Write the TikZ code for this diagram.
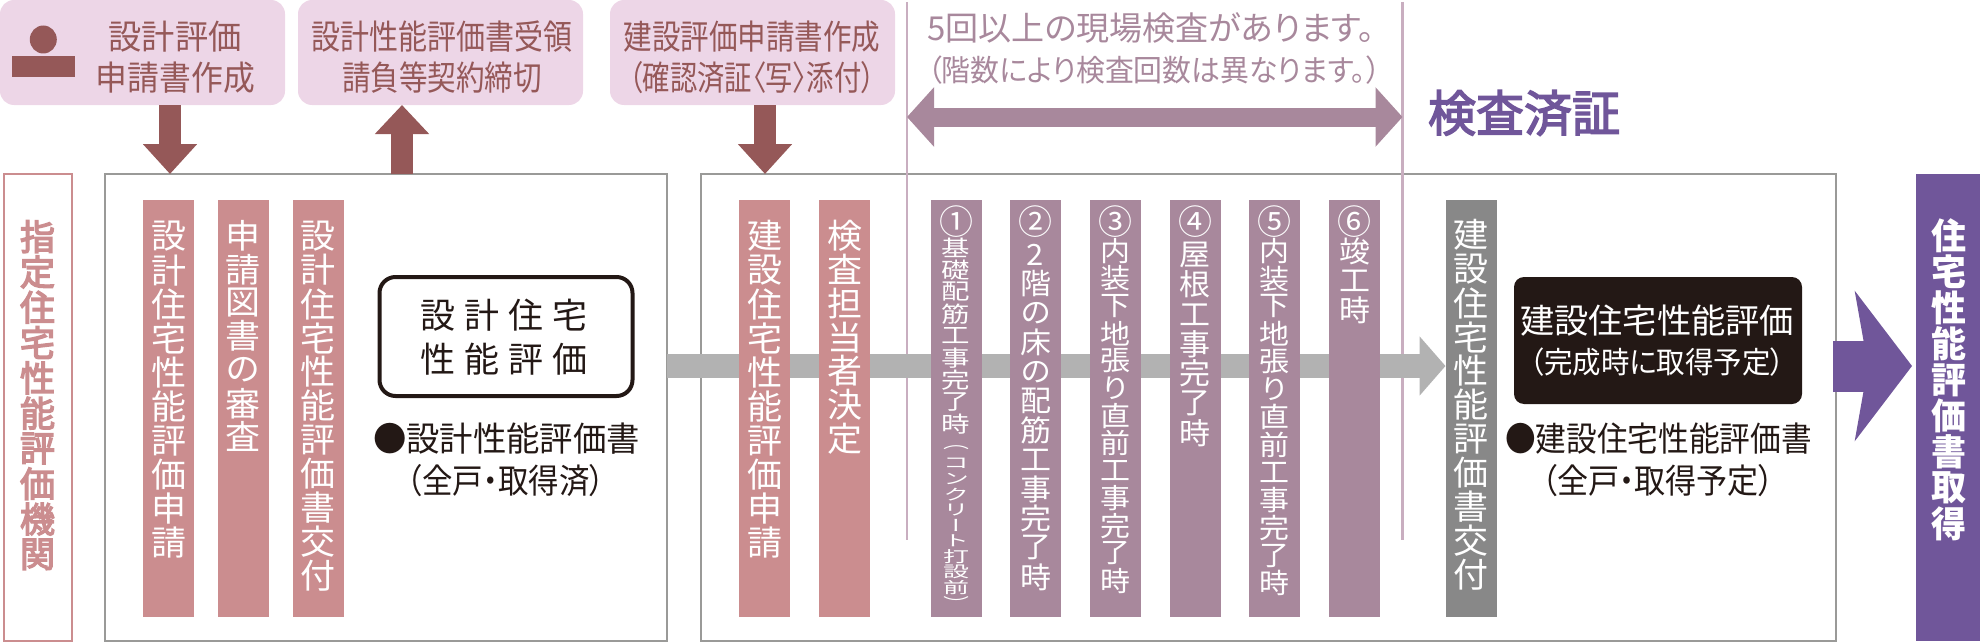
\documentclass[tikz,border=0pt]{standalone}
\usepackage{fontspec}
\usepackage{graphicx}
\usetikzlibrary{arrows.meta,shapes.geometric}
\setmainfont{Noto Sans CJK JP}[RawFeature=+palt]
\newfontfamily\vfont{Noto Sans CJK JP}[RawFeature=+vert]
\newfontfamily\vmed{Noto Sans CJK JP}[RawFeature=+vert,FakeBold=4]
\newfontfamily\hmed{Noto Sans CJK JP}[RawFeature=+palt,FakeBold=3]
\definecolor{pinkbg}{HTML}{EDD6E7}
\definecolor{darkrose}{HTML}{955858}
\definecolor{rosebar}{HTML}{CB8D8F}
\definecolor{mauve}{HTML}{A8889C}
\definecolor{grayb}{HTML}{888888}
\definecolor{grayarrow}{HTML}{B2B2B2}
\definecolor{framegray}{HTML}{9A9A98}
\definecolor{vline}{HTML}{C9AEC0}
\definecolor{violetx}{HTML}{70569A}
\definecolor{ink}{HTML}{231815}
% fitted horizontal text: width, size, text
\newcommand\fit[3]{\resizebox{#1pt}{\height}{\fontsize{#2}{#2}\selectfont #3}}
% vertical stack of characters: x scale, pitch/10, characters
\newdimen\vtp
\def\vtend{\vtend}
\newcommand\vtchar[1]{\vbox to \vtp{\vss\hbox to 40pt{\hss\scalebox{\vtx}[\vtg]{#1}\hss}\vss}}
\def\vtloop#1{\ifx#1\vtend\else\vtchar{#1}\expandafter\vtloop\fi}
\newcommand\vt[3]{\def\vtx{#1}\def\vtg{#2}\vtp=#2pt\vtp=10\vtp
  \vbox{\offinterlineskip\fontsize{10}{10}\selectfont\vtloop#3\vtend}}
% circled figure at the head of a bar
\newcommand\vtcirc[1]{\vbox to 29pt{\vss\hbox to 40pt{\hss\scalebox{3.4}{\fontsize{10}{10}\selectfont #1}\hss}\vss}}
\tikzset{
  pinkbox/.style={fill=pinkbg,rounded corners=14pt,minimum width=285pt,minimum height=105pt,inner sep=0pt,outer sep=0pt},
  frame/.style={draw=framegray,line width=2pt,minimum height=467pt,inner sep=0pt,outer sep=0pt},
  barrect/.style={minimum width=51pt,minimum height=417pt,inner sep=0pt,outer sep=0pt},
  bartext/.style={anchor=north,inner sep=0pt,outer sep=0pt,text=white,font=\vfont},
  txt/.style={inner sep=0pt,outer sep=0pt},
  roseline/.style={line width=22pt,draw=darkrose,-{Triangle[length=30pt,width=52.5pt]}},
}
\newcommand\barnode[5]{%
  \node[barrect,fill=#3] (#1) at (#2,408.5) {};
  \node[bartext] (#1t) at ([yshift=-#4pt]#1.north) {#5};
}
\begin{document}
\begin{tikzpicture}[x=1pt,y=-1pt]
\useasboundingbox (0,0) rectangle (1980,642);
% top boxes
\node[pinkbox] (p1) at (142.5,52.5) {};
\node[pinkbox] (p2) at (440.5,52.5) {};
\node[pinkbox] (p3) at (752.5,52.5) {};
\node[ellipse,fill=darkrose,minimum width=27pt,minimum height=28pt,inner sep=0pt] (head) at (43.3,39.5) {};
\node[fill=darkrose,minimum width=63pt,minimum height=21pt,inner sep=0pt] (body) at (43.5,66.5) {};
\node[txt,text=darkrose] (p1a) at (175,37) {\fit{133}{34}{設計評価}};
\node[txt,text=darkrose] (p1b) at (175.3,78) {\fit{159}{34}{申請書作成}};
\node[txt,text=darkrose] (p2a) at (442,37) {\fit{261}{34}{設計性能評価書受領}};
\node[txt,text=darkrose] (p2b) at (442,78) {\fit{200}{34}{請負等契約締切}};
\node[txt,text=darkrose] (p3a) at (752,37) {\fit{257}{34}{建設評価申請書作成}};
\node[txt,text=darkrose] (p3b) at (752,78) {\fit{246}{34}{（確認済証〈写〉添付）}};
% frames
\node[draw=rosebar,line width=1.6pt,minimum width=68pt,minimum height=467pt,inner sep=0pt,outer sep=0pt] (org) at (38,407.5) {};
\node[frame,minimum width=562pt] (boxA) at (386,407.5) {};
\node[frame,minimum width=1135pt] (boxB) at (1268.5,407.5) {};
\node[bartext,text=rosebar,font=\vmed] (orgt) at (37.5,219) {\vt{3.5}{3.53}{指定住宅性能評価機関}};
% vertical inspection lines
\coordinate (v1t) at (907,2);
\coordinate (v1b) at (907,540);
\coordinate (v2t) at (1402.5,2);
\coordinate (v2b) at (1402.5,540);
\draw[vline,line width=2.6pt] (v1t) -- (v1b);
\draw[vline,line width=2.6pt] (v2t) -- (v2b);
% flow arrow
\coordinate (grayy) at (0,366);
\coordinate (dy) at (0,117);
% arrows between boxes
\draw[roseline] ([xshift=27.5pt]p1.south) -- ([xshift=-216pt]boxA.north);
\draw[roseline,-{Triangle[length=29pt,width=52.5pt]}] ([xshift=16pt]boxA.north) -- ([xshift=-38.5pt]p2.south);
\draw[roseline] ([xshift=12.5pt]p3.south) -- ([xshift=-503.5pt]boxB.north);
\draw[mauve,line width=19pt,{Triangle[length=27pt,width=58pt]}-{Triangle[length=27pt,width=58pt]}] (v1t |- dy) -- (v2t |- dy);
% bars
\barnode{b0}{1471}{grayb}{18}{\vt{3.5}{3.4}{建設住宅性能評価書交付}}
\draw[grayarrow,line width=24pt,-{Triangle[length=26pt,width=58pt]}] (boxA.east |- grayy) -- (b0.west |- grayy);
\barnode{b1}{168.5}{rosebar}{19}{\vt{3.5}{3.41}{設計住宅性能評価申請}}
\barnode{b2}{243}{rosebar}{19}{\vt{3.5}{3.35}{申請図書の審査}}
\barnode{b3}{318}{rosebar}{19}{\vt{3.5}{3.4}{設計住宅性能評価書交付}}
\barnode{b4}{764.5}{rosebar}{19}{\vt{3.5}{3.41}{建設住宅性能評価申請}}
\barnode{b5}{844.5}{rosebar}{19}{\vt{3.5}{3.38}{検査担当者決定}}
\barnode{c1}{956}{mauve}{7}{\vbox{\offinterlineskip\vtcirc{①}\vskip1pt\vt{2.85}{2.2}{基礎配筋工事完了時}\vskip5pt\vt{2.6}{1.55}{（コンクリート打設前）}}}
\barnode{c2}{1035.5}{mauve}{7}{\vbox{\offinterlineskip\vtcirc{②}\vskip4pt\vt{3.1}{2.93}{2階の床の配筋工事完了時}}}
\barnode{c3}{1115.5}{mauve}{7}{\vbox{\offinterlineskip\vtcirc{③}\vskip1pt\vt{3.0}{2.75}{内装下地張り直前工事完了時}}}
\barnode{c4}{1195}{mauve}{7}{\vbox{\offinterlineskip\vtcirc{④}\vskip4pt\vt{3.1}{2.97}{屋根工事完了時}}}
\barnode{c5}{1274.5}{mauve}{7}{\vbox{\offinterlineskip\vtcirc{⑤}\vskip1pt\vt{3.0}{2.77}{内装下地張り直前工事完了時}}}
\barnode{c6}{1354.5}{mauve}{7}{\vbox{\offinterlineskip\vtcirc{⑥}\vskip1pt\vt{3.1}{2.95}{竣工時}}}
% above the line
\node[txt,text=mauve] (top1) at (1151,27.5) {\fit{447}{33}{5回以上の現場検査があります。}};
\node[txt,text=mauve] (top2) at (1154,70) {\fit{453}{30}{（階数により検査回数は異なります。）}};
\node[txt,text=violetx,font=\hmed] (pass) at (1524,113) {\fit{192}{49}{検査済証}};
% design result
\node[draw=ink,line width=4pt,rounded corners=16pt,fill=white,minimum width=253pt,minimum height=119pt,inner sep=0pt,outer sep=0pt] (dbox) at (506,336.5) {};
\node[txt,text=ink] (d1) at (504,315) {\fontsize{35}{35}\selectfont 設\hspace{9pt}計\hspace{9pt}住\hspace{9pt}宅};
\node[txt,text=ink] (d2) at (504,359.5) {\fontsize{35}{35}\selectfont 性\hspace{9pt}能\hspace{9pt}評\hspace{9pt}価};
\node[txt,text=ink] (d3) at (506.5,439) {\fit{267}{34}{●設計性能評価書}};
\node[txt,text=ink] (d4) at (506,480.5) {\fit{198}{34}{（全戸・取得済）}};
% construction result
\node[fill=ink,rounded corners=10pt,minimum width=288pt,minimum height=127pt,inner sep=0pt,outer sep=0pt] (kbox) at (1658,340.5) {};
\node[txt,text=white] (k1) at (1657,320.5) {\fit{274}{34}{建設住宅性能評価}};
\node[txt,text=white] (k2) at (1657.5,362) {\fit{255}{30}{（完成時に取得予定）}};
\node[txt,text=ink] (k3) at (1658.5,439) {\fit{307}{34}{●建設住宅性能評価書}};
\node[txt,text=ink] (k4) at (1658,480.5) {\fit{233}{34}{（全戸・取得予定）}};
% final
\node[fill=violetx,minimum width=64pt,minimum height=467pt,inner sep=0pt,outer sep=0pt] (final) at (1948,407.5) {};
\node[bartext,font=\vfont\bfseries] (finalt) at (1949,218) {\vt{3.5}{3.6}{住宅性能評価書取得}};
\coordinate (pa) at (1833,366);
\coordinate (pb) at (1912,366);
\draw[violetx,line width=51pt,-{Stealth[length=57pt,width=149pt,inset=13pt]}] (pa) -- (pb);
\end{tikzpicture}
\end{document}
